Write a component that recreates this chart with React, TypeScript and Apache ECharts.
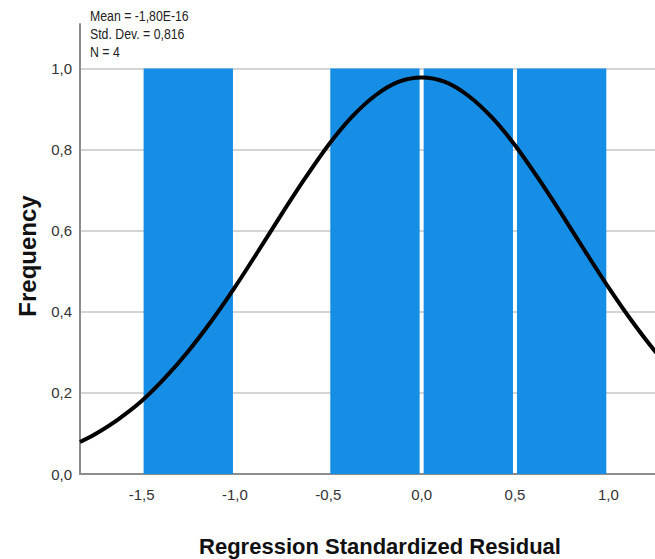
import React, { useEffect, useRef } from "react";
import * as echarts from "echarts";

const binStarts = [-1.5, -0.5, 0.0, 0.5];
const binEnds = [-1.0, 0.0, 0.5, 1.0];
const binCounts = [1, 1, 1, 1];

const curveX = [-1.83, -1.75, -1.625, -1.5, -1.375, -1.25, -1.125, -1.0, -0.875, -0.75, -0.625, -0.5, -0.375, -0.25, -0.125, 0, 0.125, 0.25, 0.375, 0.5, 0.625, 0.75, 0.875, 1.0, 1.125, 1.25, 1.3];
const curveY = [0.079, 0.098, 0.135, 0.18, 0.237, 0.303, 0.378, 0.461, 0.55, 0.641, 0.729, 0.811, 0.88, 0.933, 0.967, 0.978, 0.967, 0.933, 0.88, 0.811, 0.729, 0.641, 0.55, 0.461, 0.378, 0.303, 0.28];

const xTicks = [-1.5, -1.0, -0.5, 0.0, 0.5, 1.0];
const yTicks = [0, 0.2, 0.4, 0.6, 0.8, 1.0];

const statsLines = ["Mean = -1,80E-16", "Std. Dev. = 0,816", "N = 4"];
const xTitle = "Regression Standardized Residual";
const yTitle = "Frequency";

const FONT = "'Liberation Sans', Arial, sans-serif";
const fmt = (v: number) => v.toFixed(1).replace(".", ",");

export default function App() {
  const ref = useRef<HTMLDivElement>(null);
  useEffect(() => {
    if (!ref.current) return;
    const chart = echarts.init(ref.current, undefined, { renderer: "svg" });
    const barData = binStarts.map((s, i) => [s, binEnds[i], binCounts[i]]);
    chart.setOption({
      animation: false,
      backgroundColor: "#ffffff",
      grid: { left: 80, right: 0, top: 24, bottom: 85, containLabel: false },
      xAxis: {
        type: "value",
        min: -1.83,
        max: 1.25,
        axisLine: { show: true, onZero: false, lineStyle: { color: "#8c8c8c", width: 2 } },
        axisTick: { show: false, customValues: xTicks },
        axisLabel: {
          customValues: xTicks,
          formatter: (v: number) => fmt(v),
          fontFamily: FONT,
          fontSize: 15,
          color: "#333",
          margin: 13,
        },
        splitLine: { show: false },
      },
      yAxis: {
        type: "value",
        min: 0,
        max: 1.11,
        axisLine: { show: true, onZero: false, lineStyle: { color: "#8c8c8c", width: 2 } },
        axisTick: { show: false, customValues: yTicks },
        axisLabel: {
          customValues: yTicks,
          formatter: (v: number) => fmt(v),
          fontFamily: FONT,
          fontSize: 15,
          color: "#333",
          margin: 8,
        },
        splitLine: { show: true, lineStyle: { color: "#d4d4d4", width: 2 } },
      },
      graphic: [
        ...statsLines.map((t, i) => ({
          type: "text",
          x: 90,
          y: 9 + i * 18,
          scaleX: 0.82,
          style: { text: t, font: `15px ${FONT}`, fill: "#222", verticalAlign: "top", align: "left" },
        })),
        {
          type: "text",
          x: 380,
          y: 546,
          style: { text: xTitle, font: `bold 22px ${FONT}`, fill: "#111", align: "center", verticalAlign: "middle" },
        },
        {
          type: "text",
          x: 27,
          y: 256,
          rotation: Math.PI / 2,
          style: { text: yTitle, font: `bold 24px ${FONT}`, fill: "#111", align: "center", verticalAlign: "middle" },
        },
      ],
      series: [
        {
          type: "custom",
          z: 2,
          data: barData,
          encode: { x: [0, 1], y: 2 },
          renderItem: (params: any, api: any) => {
            const p0 = api.coord([api.value(0), api.value(2)]);
            const p1 = api.coord([api.value(1), 0]);
            return {
              type: "rect",
              shape: { x: p0[0] + 2, y: p0[1], width: p1[0] - p0[0] - 4, height: p1[1] - p0[1] },
              style: { fill: "#168ee6" },
            };
          },
        },
        {
          type: "line",
          z: 3,
          data: curveX.map((x, i) => [x, curveY[i]]),
          smooth: 0.3,
          showSymbol: false,
          symbol: "none",
          clip: true,
          lineStyle: { color: "#000", width: 4 },
        },
      ],
    });
    return () => chart.dispose();
  }, []);
  return <div ref={ref} style={{ position: "fixed", left: 0, top: 0, width: 655, height: 559 }} />;
}
